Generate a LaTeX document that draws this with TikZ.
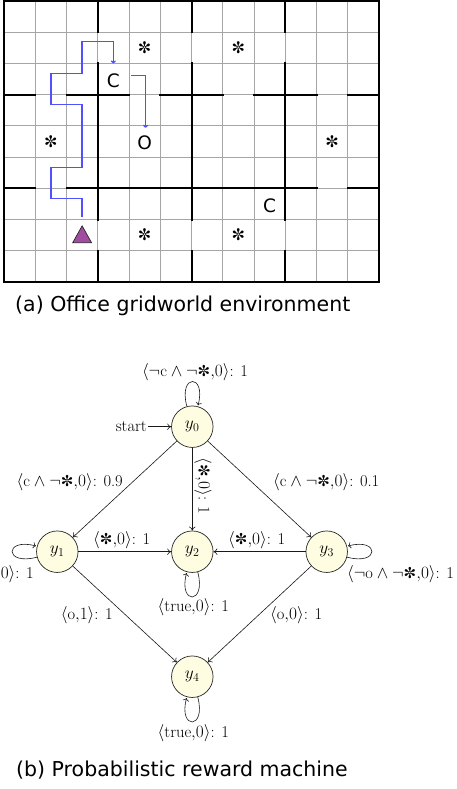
\documentclass[tikz,border=0pt]{standalone}
\usepackage{fontspec}
\newfontfamily\djv{DejaVu Sans}
\usetikzlibrary{arrows.meta}
\definecolor{pathblue}{RGB}{80,80,255}
\definecolor{agentfill}{RGB}{160,76,160}
\definecolor{nodefill}{RGB}{255,253,225}
\definecolor{gridgray}{RGB}{165,165,165}
\newcommand{\stsym}{\mbox{\djv\fontsize{15}{15}\selectfont ✼}}
\tikzset{
  gridline/.style={draw=gridgray, line width=0.9pt},
  wall/.style={draw=black, line width=2pt, line cap=rect},
  border/.style={draw=black, line width=2.4pt},
  objtxt/.style={font=\djv\fontsize{18.5}{18.5}\selectfont, inner sep=0pt},
  objstar/.style={font=\djv\fontsize{16}{16}\selectfont, inner sep=0pt},
  trail/.style={draw=pathblue, line width=1.4pt, -{To[length=3pt,width=5pt]}},
  state/.style={circle, draw=black!85, line width=0.7pt, fill=nodefill, minimum size=41.5pt, inner sep=0pt, font=\fontsize{17}{17}\selectfont},
  lbl/.style={font=\fontsize{16.5}{18}\selectfont, inner sep=0pt},
  tr/.style={draw=black!90, line width=0.6pt, -{To[length=4pt,width=6.5pt]}},
  captxt/.style={font=\djv\fontsize{20.5}{24}\selectfont, inner sep=0pt}
}
\begin{document}
\begin{tikzpicture}[x=1pt,y=-1pt]
\clip (0,0) rectangle (456,789);
\fill[white] (0,0) rectangle (456,789);
% ---------------- grid world ----------------
\begin{scope}[shift={(4,1)}, x=31.25pt, y=-31.222pt]
  \foreach \i in {1,...,11} \draw[gridline] (\i,0) -- (\i,9);
  \foreach \j in {1,...,8} \draw[gridline] (0,\j) -- (12,\j);
  \foreach \c in {3,6,9} {
    \draw[wall] (\c,0) -- (\c,1);
    \draw[wall] (\c,2) -- (\c,7);
    \draw[wall] (\c,8) -- (\c,9);
  }
  \foreach \a/\b in {0/1,2/4,5/7,8/10,11/12} \draw[wall] (\a,3) -- (\b,3);
  \foreach \a/\b in {0/1,2/10,11/12} \draw[wall] (\a,6) -- (\b,6);
  \draw[border] (0,0) rectangle (12,9);
  % objects
  \node[objstar] (s1) at (4.5,1.5) {✼};
  \node[objstar] (s2) at (7.5,1.5) {✼};
  \node[objtxt]  (cA) at (3.5,2.55) {C};
  \node[objstar] (s3) at (1.5,4.5) {✼};
  \node[objtxt]  (oA) at (4.5,4.55) {O};
  \node[objstar] (s4) at (10.5,4.5) {✼};
  \node[objtxt]  (cB) at (8.5,6.55) {C};
  \node[objstar] (s5) at (4.5,7.5) {✼};
  \node[objstar] (s6) at (7.5,7.5) {✼};
  % agent
  \draw[fill=agentfill, draw=black!85, line width=0.7pt] (2.2,7.74) -- (2.8,7.74) -- (2.5,7.2) -- cycle;
  % trajectory
  \draw[trail] (2.5,6.91) -- (2.5,6.32) -- (1.5,6.32) -- (1.5,5.33) -- (2.5,5.33) -- (2.5,3.31)
     -- (1.5,3.31) -- (1.5,2.32) -- (2.5,2.32) -- (2.5,1.30) -- (3.5,1.30) -- (3.5,2.0);
  \draw[trail] (4.07,2.39) -- (4.53,2.39) -- (4.53,4.06);
\end{scope}
\node[captxt, anchor=west] (capa) at (15,306) {(a) Office gridworld environment};
% ---------------- reward machine ----------------
\node[state] (y0) at (192.3,426.7) {$y_0$};
\node[state] (y1) at (57.3,551.7) {$y_1$};
\node[state] (y2) at (192.3,551.7) {$y_2$};
\node[state] (y3) at (326.7,551.7) {$y_3$};
\node[state] (y4) at (192.3,676.7) {$y_4$};
\node[lbl, anchor=east, inner sep=1pt] (start) at (148,426.7) {start};
\draw[tr] (start) -- (y0);
\draw[tr] (y0) edge[loop above] (y0);
\draw[tr] (y1) edge[loop left] (y1);
\draw[tr] (y3) edge[out=-15, in=15, loop] (y3);
\draw[tr] (y2) edge[loop below] (y2);
\draw[tr] (y4) edge[loop below] (y4);
\draw[tr] (y0) -- (y1);
\draw[tr] (y0) -- (y2);
\draw[tr] (y0) -- (y3);
\draw[tr] (y1) -- (y2);
\draw[tr] (y3) -- (y2);
\draw[tr] (y1) -- (y4);
\draw[tr] (y3) -- (y4);
% labels
\node[lbl] (l00) at (195,371.7) {$\langle\neg\mathrm{c}\wedge\neg\stsym{,}0\rangle$: 1};
\node[lbl, anchor=east] (l01) at (123,482) {$\langle\mathrm{c}\wedge\neg\stsym{,}0\rangle$: 0.9};
\node[lbl, anchor=west] (l03) at (273,482) {$\langle\mathrm{c}\wedge\neg\stsym{,}0\rangle$: 0.1};
\node[lbl, rotate=-90] (l02) at (203,486) {$\langle\stsym{,}0\rangle$: 1};
\node[lbl] (l12) at (121.7,540) {$\langle\stsym{,}0\rangle$: 1};
\node[lbl] (l32) at (256.7,540) {$\langle\stsym{,}0\rangle$: 1};
\node[lbl, anchor=east] (l11) at (34,574) {$\langle\neg\mathrm{o}\wedge\neg\stsym{,}0\rangle$: 1};
\node[lbl, anchor=west] (l33) at (347,574) {$\langle\neg\mathrm{o}\wedge\neg\stsym{,}0\rangle$: 1};
\node[lbl] (l22) at (193.3,607.3) {$\langle\mathrm{true}{,}0\rangle$: 1};
\node[lbl, anchor=east] (l14) at (113,615) {$\langle\mathrm{o}{,}1\rangle$: 1};
\node[lbl, anchor=west] (l34) at (270,615) {$\langle\mathrm{o}{,}0\rangle$: 1};
\node[lbl] (l44) at (193.3,733.3) {$\langle\mathrm{true}{,}0\rangle$: 1};
\node[captxt, anchor=west] (capb) at (16,770) {(b) Probabilistic reward machine};
\end{tikzpicture}
\end{document}
